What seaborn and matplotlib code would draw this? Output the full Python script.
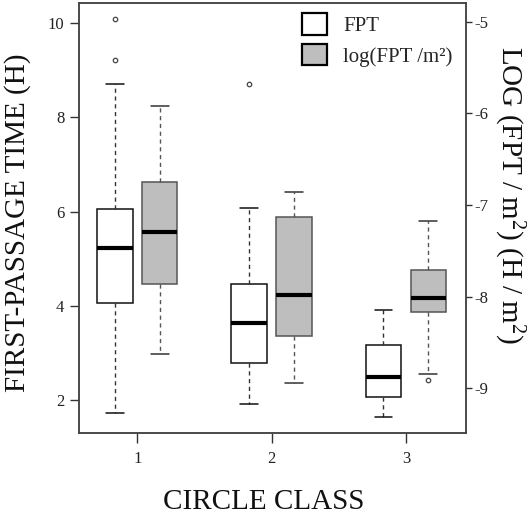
import matplotlib
matplotlib.use("Agg")
import matplotlib.pyplot as plt
import seaborn as sns
from matplotlib.patches import Patch

# ---- data ----
classes = [1, 2, 3]
class_labels = ["1", "2", "3"]

# FPT (H), left axis
fpt_whislo = [1.73, 1.92, 1.65]
fpt_q1 = [4.07, 2.79, 2.07]
fpt_med = [5.23, 3.63, 2.49]
fpt_q3 = [6.05, 4.47, 3.18]
fpt_whishi = [8.71, 6.08, 3.91]
fpt_fliers = [[9.22, 10.09], [8.71], []]

# log(FPT / m2), right axis
log_whislo = [-8.63, -8.94, -8.84]
log_q1 = [-7.86, -8.43, -8.17]
log_med = [-7.30, -7.98, -8.01]
log_q3 = [-6.75, -7.13, -7.71]
log_whishi = [-5.92, -6.86, -7.17]
log_fliers = [[], [], [-8.91]]

left_ticks = [2, 4, 6, 8, 10]
right_ticks = [-9, -8, -7, -6, -5]

series_labels = ["FPT", "log(FPT /m²)"]

sns.set_theme(style="ticks")
plt.rcParams["font.family"] = ["Liberation Serif", "DejaVu Serif"]
plt.rcParams["mathtext.fontset"] = "custom"
plt.rcParams["mathtext.rm"] = "Liberation Serif"
plt.rcParams["mathtext.default"] = "regular"
plt.rcParams["axes.unicode_minus"] = False

fig = plt.figure(figsize=(5.30, 5.14), dpi=100)
fig.patch.set_facecolor("white")
ax = fig.add_axes([0.1496, 0.1582, 0.7302, 0.8354])
ax.set_facecolor("white")
ax2 = ax.twinx()


def make_stats(lo, q1, med, q3, hi, fl):
    return [dict(whislo=a, q1=b, med=c, q3=d, whishi=e, fliers=f, label="")
            for a, b, c, d, e, f in zip(lo, q1, med, q3, hi, fl)]


off = 0.167
w = 0.264
dash = (0, (3.0, 2.6))

ax.bxp(make_stats(fpt_whislo, fpt_q1, fpt_med, fpt_q3, fpt_whishi, fpt_fliers),
       positions=[c - off for c in classes], widths=w, capwidths=w / 2,
       patch_artist=True, manage_ticks=False,
       boxprops=dict(facecolor="white", edgecolor="#111111", linewidth=1.1),
       medianprops=dict(color="black", linewidth=3.0, solid_capstyle="butt"),
       whiskerprops=dict(color="#333333", linestyle=dash, linewidth=1.0),
       capprops=dict(color="#111111", linewidth=1.1),
       flierprops=dict(marker="o", markersize=3.2, markerfacecolor="none",
                       markeredgecolor="#444444", markeredgewidth=0.9))

ax2.bxp(make_stats(log_whislo, log_q1, log_med, log_q3, log_whishi, log_fliers),
        positions=[c + off for c in classes], widths=w, capwidths=w / 2,
        patch_artist=True, manage_ticks=False,
        boxprops=dict(facecolor="#bebebe", edgecolor="#555555", linewidth=1.1),
        medianprops=dict(color="black", linewidth=3.0, solid_capstyle="butt"),
        whiskerprops=dict(color="#555555", linestyle=dash, linewidth=1.0),
        capprops=dict(color="#333333", linewidth=1.1),
        flierprops=dict(marker="o", markersize=3.2, markerfacecolor="none",
                        markeredgecolor="#444444", markeredgewidth=0.9))

ax.set_xlim(0.568, 3.45)
ax.set_ylim(1.31, 10.42)
ax2.set_ylim(-9.484, -4.80)

ax.set_xticks(classes, class_labels)
ax.set_yticks(left_ticks, [str(t) for t in left_ticks])
ax2.set_yticks(right_ticks, [str(t) for t in right_ticks])

for a in (ax, ax2):
    for s in a.spines.values():
        s.set_visible(True)
        s.set_color("#444444")
        s.set_linewidth(1.1)
    a.grid(False)

ax.tick_params(axis="x", direction="out", length=7, width=1.0, color="#333333",
               pad=6, labelsize=12, labelcolor="#222222")
ax.tick_params(axis="y", direction="out", length=6.3, width=1.0, color="#333333",
               pad=4.5, labelsize=12, labelcolor="#222222")
ax2.tick_params(axis="y", direction="out", length=4.5, width=1.0, color="#333333",
                pad=1.5, labelsize=12, labelcolor="#222222")

ax.set_xlabel("CIRCLE CLASS", fontsize=21, color="#111111")
ax.xaxis.label.set_va("center")
ax.xaxis.set_label_coords(0.477, -0.161)

ax.set_ylabel("FIRST-PASSAGE TIME (H)", fontsize=21, color="#111111")
ax.yaxis.label.set_va("center")
ax.yaxis.set_label_coords(-0.160, 0.49)

ax2.set_ylabel(r"LOG (FPT / m$^{2}$) (H / m$^{2}$)", fontsize=21,
               color="#111111", rotation=270)
ax2.yaxis.label.set_va("center")
ax2.yaxis.set_label_coords(1.110, 0.553)

handles = [Patch(facecolor="white", edgecolor="black", linewidth=1.6),
           Patch(facecolor="#bebebe", edgecolor="black", linewidth=1.6)]
ax2.legend(handles, series_labels, loc="upper left",
           bbox_to_anchor=(301.7 / 530, 1 - 13.3 / 514),
           bbox_transform=fig.transFigure, frameon=False, fontsize=15,
           handlelength=1.2, handleheight=1.2, handletextpad=0.8,
           labelspacing=0.39, borderpad=0, borderaxespad=0)

fig.savefig("out.png", dpi=100, facecolor="white")
